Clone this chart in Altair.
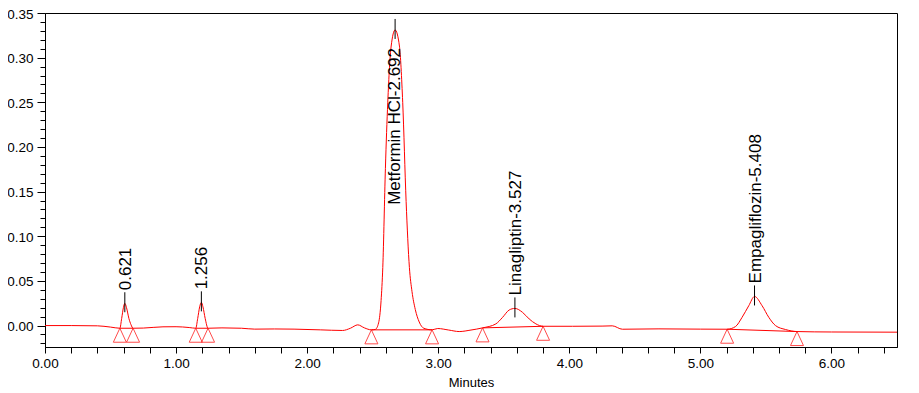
import altair as alt
import pandas as pd

# ---- chromatogram trace (minutes, AU) ----
trace_t = [0.00, 0.20, 0.40, 0.50, 0.571, 0.585, 0.598, 0.609, 0.622, 0.640, 0.656, 0.672,
           0.75, 0.90, 1.00, 1.10, 1.150, 1.165, 1.180, 1.193, 1.205, 1.222, 1.244,
           1.35, 1.50, 1.60, 1.75, 1.90, 2.10, 2.27, 2.33, 2.386, 2.437, 2.490, 2.520,
           2.545, 2.564, 2.577, 2.597, 2.615, 2.641, 2.671, 2.704, 2.729, 2.755, 2.780,
           2.800, 2.825, 2.855, 2.890, 2.953, 2.996, 3.08, 3.16, 3.25, 3.338, 3.440,
           3.491, 3.541, 3.585, 3.643, 3.694, 3.745, 3.800, 4.024, 4.25, 4.328, 4.405,
           4.684, 5.00, 5.204, 5.268, 5.318, 5.369, 5.413, 5.471, 5.522, 5.573, 5.649,
           5.737, 6.00, 6.50]
trace_v = [0.0000, 0.0000, -0.0003, -0.0017, -0.0030, 0.0080, 0.0200, 0.0250, 0.0200, 0.0080, 0.0010, -0.0030,
           -0.0028, -0.0014, -0.0013, -0.0022, -0.0030, 0.0080, 0.0210, 0.0260, 0.0210, 0.0080, -0.0030,
           -0.0026, -0.0030, -0.0040, -0.0038, -0.0040, -0.0048, -0.0055, -0.0030, 0.0008, -0.0026, -0.0048, -0.0043,
           0.0030, 0.0280, 0.0650, 0.1760, 0.2500, 0.3130, 0.3310, 0.3130, 0.2500, 0.1390, 0.0650,
           0.0380, 0.0180, 0.0040, -0.0030, -0.0048, -0.0033, -0.0050, -0.0067, -0.0050, -0.0026, 0.0019,
           0.0092, 0.0174, 0.0192, 0.0148, 0.0074, 0.0019, -0.0008, -0.0008, -0.0006, -0.0003, -0.0041,
           -0.0037, -0.0040, -0.0041, -0.0011, 0.0092, 0.0222, 0.0326, 0.0222, 0.0092, 0.0000, -0.0044,
           -0.0067, -0.0072, -0.0074]

# ---- integration baselines (start / end of each peak) ----
base_start_t = [0.571, 1.150, 2.490, 3.338, 5.204]
base_start_v = [-0.0030, -0.0030, -0.0048, -0.0026, -0.0041]
base_end_t = [0.672, 1.244, 2.953, 3.800, 5.737]
base_end_v = [-0.0030, -0.0030, -0.0048, -0.0008, -0.0067]

# ---- peak labels ----
peak_names = ["0.621", "1.256", "Metformin HCl-2.692", "Linagliptin-3.527", "Empagliflozin-5.408"]
peak_t = [0.609, 1.193, 2.671, 3.585, 5.413]
peak_v = [0.0250, 0.0260, 0.3310, 0.0192, 0.0326]
peak_inside = [False, False, True, False, False]

# ---- axis tick values ----
x_ticks = [round(i * 0.2, 1) for i in range(0, 33)]
y_ticks = [round(i * 0.01, 2) for i in range(-2, 36)]

trace_df = pd.DataFrame({"t": trace_t, "v": trace_v})
base_df = pd.DataFrame({"t": base_start_t, "v": base_start_v, "t2": base_end_t, "v2": base_end_v})
tri_df = pd.DataFrame({"t": base_start_t + base_end_t, "v": base_start_v + base_end_v})
peak_df = pd.DataFrame({"t": peak_t, "v": peak_v, "name": peak_names, "inside": peak_inside})

FONT = "Liberation Sans"
RED = "#ff0000"

x_scale = alt.Scale(domain=[0, 6.5], nice=False, zero=False)
y_scale = alt.Scale(domain=[-0.024, 0.35], nice=False, zero=False)

x_axis = alt.Axis(
    values=x_ticks,
    labelExpr="abs(datum.value - round(datum.value)) < 1e-6 ? format(datum.value, '.2f') : ''",
    labelOverlap=False, labelFlush=False, grid=False, tickSize=6, labelPadding=3,
    title="Minutes", titleFontWeight="normal", titleFontSize=13, titlePadding=7,
)
y_axis = alt.Axis(
    values=y_ticks,
    labelExpr="abs(datum.value * 20 - round(datum.value * 20)) < 1e-6 ? format(datum.value, '.2f') : ''",
    labelOverlap=False, labelFlush=False, grid=False,
    tickSize={"condition": {"test": "abs(datum.value * 20 - round(datum.value * 20)) < 1e-6", "value": 8}, "value": 5},
    labelPadding=4, labelOffset=1, title=None,
)

X = alt.X("t:Q", scale=x_scale, axis=x_axis)
Y = alt.Y("v:Q", scale=y_scale, axis=y_axis)

trace = alt.Chart(trace_df).mark_line(color=RED, strokeWidth=1, interpolate="monotone").encode(x=X, y=Y)

baselines = alt.Chart(base_df).mark_rule(color=RED, strokeWidth=1).encode(
    x=X, y=Y, x2="t2:Q", y2="v2:Q"
)

triangles = alt.Chart(tri_df).mark_point(
    shape="M0,-1L-0.93,1L0.93,1Z", size=196, filled=False, stroke=RED, strokeWidth=1, yOffset=7
).encode(x=X, y=Y)

ticks = alt.Chart(peak_df).mark_rule(color="black", strokeWidth=1, yOffset=-11, y2Offset=9).encode(
    x=X, y=Y, y2="v:Q"
)

labels_out = alt.Chart(peak_df).transform_filter("!datum.inside").mark_text(
    angle=270, align="left", baseline="middle", font=FONT, fontSize=17, color="black", yOffset=-13, xOffset=1
).encode(x=X, y=Y, text="name:N")

labels_in = alt.Chart(peak_df).transform_filter("datum.inside").mark_text(
    angle=270, align="right", baseline="middle", font=FONT, fontSize=17, color="black", yOffset=18
).encode(x=X, y=Y, text="name:N")

chart = alt.layer(trace, baselines, triangles, ticks, labels_out, labels_in).properties(
    width=852, height=334,
    autosize="none",
    padding={"left": 37, "top": 5, "right": 14, "bottom": 45},
).configure(font=FONT).configure_view(
    stroke="black", strokeWidth=1
).configure_axis(
    domainColor="black", tickColor="black", labelColor="black", titleColor="black",
    labelFont=FONT, titleFont=FONT, labelFontSize=13.5, domainWidth=1, tickWidth=1,
)

chart.save("out.html", embed_options={"renderer": "svg", "actions": False})
